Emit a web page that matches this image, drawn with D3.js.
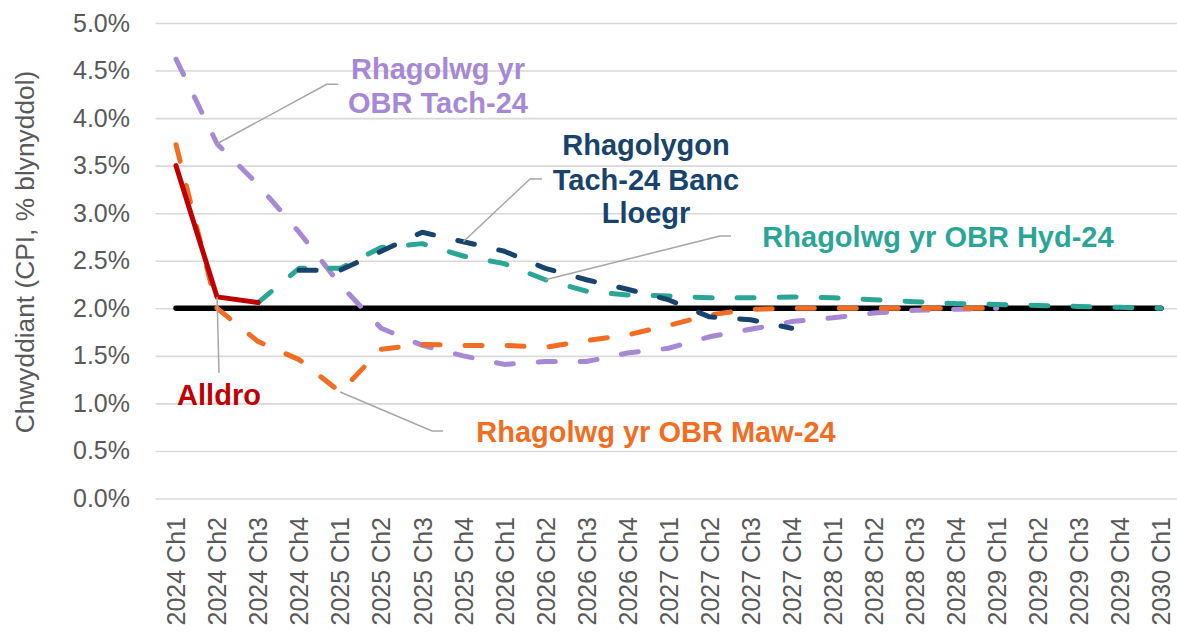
<!DOCTYPE html>
<html>
<head>
<meta charset="utf-8">
<script src="https://cdn.jsdelivr.net/npm/d3@7"></script>
<style>
  html, body { margin: 0; padding: 0; background: #ffffff; }
  svg { display: block; font-family: "Liberation Sans", Arial, sans-serif; }
</style>
</head>
<body>
<svg id="chart" width="1177" height="632"></svg>
<script>
// ---------- data ----------
const categories = [
  "2024 Ch1","2024 Ch2","2024 Ch3","2024 Ch4",
  "2025 Ch1","2025 Ch2","2025 Ch3","2025 Ch4",
  "2026 Ch1","2026 Ch2","2026 Ch3","2026 Ch4",
  "2027 Ch1","2027 Ch2","2027 Ch3","2027 Ch4",
  "2028 Ch1","2028 Ch2","2028 Ch3","2028 Ch4",
  "2029 Ch1","2029 Ch2","2029 Ch3","2029 Ch4",
  "2030 Ch1"
];
const yTickValues = [0, 0.5, 1, 1.5, 2, 2.5, 3, 3.5, 4, 4.5, 5];
const yTickLabels = ["0.0%","0.5%","1.0%","1.5%","2.0%","2.5%","3.0%","3.5%","4.0%","4.5%","5.0%"];

const target    = [2,2,2,2,2,2,2,2,2,2,2,2,2,2,2,2,2,2,2,2,2,2,2,2,2];
const outturn   = [3.5,2.12,2.06,null,null,null,null,null,null,null,null,null,null,null,null,null,null,null,null,null,null,null,null,null,null];
const obrNov24  = [4.62,3.73,3.3,2.8,2.25,1.79,1.61,1.5,1.41,1.44,1.44,1.53,1.58,1.7,1.78,1.86,1.9,1.95,1.98,1.99,2.0,null,null,null,null];
const obrMar24  = [3.72,2.0,1.65,1.46,1.12,1.57,1.62,1.61,1.61,1.59,1.66,1.72,1.82,1.93,1.99,2.0,2.0,2.0,2.0,2.0,2.0,null,null,null,null];
const obrOct24  = [null,null,2.06,2.42,2.42,2.64,2.68,2.55,2.47,2.3,2.18,2.14,2.13,2.11,2.11,2.12,2.11,2.09,2.07,2.05,2.04,2.03,2.02,2.01,2.0];
const boeNov24  = [null,null,null,2.4,2.4,2.6,2.8,2.7,2.6,2.42,2.3,2.2,2.09,1.91,1.88,1.79,null,null,null,null,null,null,null,null,null];

const yTitle = "Chwyddiant (CPI, % blynyddol)";

// ---------- setup ----------
const svg = d3.select("#chart");
const x = d3.scalePoint().domain(categories).range([155.5, 1181.5]).padding(0.5);
const y = d3.scaleLinear().domain([0, 5]).range([498.5, 23]);

const grey = "#595959";

// y axis + gridlines
const yAxis = d3.axisLeft(y)
  .tickValues(yTickValues)
  .tickFormat((d, i) => yTickLabels[i])
  .tickSize(-1026)
  .tickPadding(25.5);
const gy = svg.append("g").attr("transform", "translate(155.5,0)").call(yAxis);
gy.select(".domain").remove();
gy.selectAll(".tick line").attr("stroke", "#D9D9D9").attr("stroke-width", 1.6);
gy.selectAll(".tick text").attr("fill", grey).attr("font-size", 25).attr("font-family", "Liberation Sans, Arial, sans-serif");

// x axis
const xAxis = d3.axisBottom(x).tickSize(0).tickPadding(0);
const gx = svg.append("g").attr("transform", "translate(0,498.5)").call(xAxis);
gx.select(".domain").remove();
gx.selectAll(".tick text")
  .attr("fill", grey)
  .attr("font-size", 25)
  .attr("font-family", "Liberation Sans, Arial, sans-serif")
  .attr("transform", "rotate(-90)")
  .attr("text-anchor", "end")
  .attr("x", -18.5)
  .attr("y", 0)
  .attr("dy", "0.35em");

// y title
svg.append("text")
  .attr("transform", "translate(34,252) rotate(-90)")
  .attr("text-anchor", "middle")
  .attr("fill", grey)
  .attr("font-size", 26.3)
  .text(yTitle);

// ---------- lines ----------
const lineGen = d3.line()
  .defined(d => d.v !== null)
  .x(d => x(d.c))
  .y(d => y(d.v));
const toPts = arr => arr.map((v, i) => ({ c: categories[i], v }));

function drawLine(arr, color, width, dash) {
  const p = svg.append("path")
    .datum(toPts(arr))
    .attr("fill", "none")
    .attr("stroke", color)
    .attr("stroke-width", width)
    .attr("stroke-linecap", "round")
    .attr("stroke-linejoin", "round")
    .attr("d", lineGen);
  if (dash) p.attr("stroke-dasharray", dash);
  return p;
}

const cPurple = "#A688D5";
const cOrange = "#F26C22";
const cTeal   = "#2AA596";
const cNavy   = "#17436C";
const cRed    = "#C00000";

drawLine(target, "#000000", 5.5, null);
drawLine(obrNov24, cPurple, 5, "17,25");
drawLine(obrMar24, cOrange, 5, "17,25");
drawLine(obrOct24, cTeal, 5, "17,25");
drawLine(boeNov24, cNavy, 5, "17,25");
drawLine(outturn, cRed, 5, null);

// ---------- annotations ----------
const leader = pts => svg.append("path")
  .attr("d", d3.line()(pts))
  .attr("fill", "none")
  .attr("stroke", "#A6A6A6")
  .attr("stroke-width", 1.5);

leader([[x(categories[1]), y(obrNov24[1])], [326.7, 84.3], [338.3, 84.3]]);
leader([[x(categories[7]), y(boeNov24[7])], [530, 179], [542, 179]]);
leader([[x(categories[9]), y(obrOct24[9])], [720, 236], [731, 236]]);
leader([[x(categories[4]), y(obrMar24[4])], [432, 431], [443, 431]]);
leader([[x(categories[1]), y(outturn[1])], [219, 373]]);

function label(lines, cx, baselines, color) {
  const t = svg.append("text")
    .attr("text-anchor", "middle")
    .attr("fill", color)
    .attr("font-size", 29)
    .attr("font-weight", "bold");
  lines.forEach((s, i) => t.append("tspan").attr("x", cx).attr("y", baselines[i]).text(s));
}

label(["Rhagolwg yr", "OBR Tach-24"], 438, [79, 113], cPurple);
label(["Rhagolygon", "Tach-24 Banc", "Lloegr"], 646, [155, 190, 223], cNavy);
label(["Rhagolwg yr OBR Hyd-24"], 938, [247], cTeal);
label(["Rhagolwg yr OBR Maw-24"], 656, [442], cOrange);
label(["Alldro"], 219, [405], cRed);
</script>
</body>
</html>
